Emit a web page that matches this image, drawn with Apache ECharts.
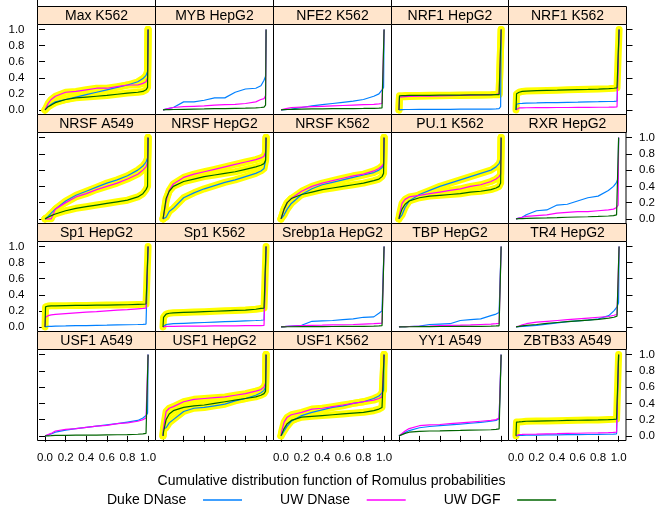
<!DOCTYPE html>
<html>
<head>
<meta charset="utf-8">
<script src="https://cdn.jsdelivr.net/npm/echarts@6/dist/echarts.min.js"></script>
<style>
html,body{margin:0;padding:0;background:#fff;}
#main{width:658px;height:508px;}
</style>
</head>
<body>
<div id="main"></div>
<script>
// ---------------- DATA ----------------
const panelTitles = ["Max K562","MYB HepG2","NFE2 K562","NRF1 HepG2","NRF1 K562",
  "NRSF A549","NRSF HepG2","NRSF K562","PU.1 K562","RXR HepG2",
  "Sp1 HepG2","Sp1 K562","Srebp1a HepG2","TBP HepG2","TR4 HepG2",
  "USF1 A549","USF1 HepG2","USF1 K562","YY1 A549","ZBTB33 A549"];
const seriesNames = ["Duke DNase","UW DNase","UW DGF"];
const xGrid = [0,0.005,0.03,0.06,0.1,0.2,0.3,0.4,0.5,0.6,0.7,0.8,0.9,0.95,0.98,0.995,1.0];
const xTickValues = [0,0.2,0.4,0.6,0.8,1.0];
const yTickValues = [0,0.2,0.4,0.6,0.8,1.0];

const dukeDNase = [
 [0,0.005,0.04,0.07,0.10,0.13,0.16,0.19,0.22,0.25,0.28,0.31,0.35,0.39,0.43,0.48,1],
 [0,0.005,0.01,0.02,0.03,0.10,0.10,0.12,0.15,0.15,0.22,0.26,0.27,0.30,0.37,0.42,1],
 [0,0.001,0.004,0.007,0.01,0.03,0.05,0.065,0.08,0.095,0.11,0.13,0.17,0.20,0.25,0.28,1],
 [0,0.003,0.004,0.005,0.005,0.006,0.007,0.008,0.008,0.009,0.01,0.01,0.011,0.012,0.015,0.04,1],
 [0,0.07,0.08,0.082,0.085,0.087,0.09,0.092,0.095,0.097,0.1,0.102,0.105,0.107,0.11,0.12,1],
 [0,0.005,0.03,0.07,0.12,0.22,0.29,0.34,0.39,0.44,0.48,0.53,0.60,0.65,0.70,0.75,1],
 [0,0.005,0.02,0.09,0.13,0.26,0.32,0.37,0.41,0.45,0.48,0.52,0.56,0.59,0.62,0.72,1],
 [0,0.005,0.05,0.12,0.19,0.30,0.37,0.42,0.45,0.48,0.51,0.54,0.57,0.60,0.63,0.66,1],
 [0,0.005,0.05,0.14,0.22,0.30,0.35,0.40,0.44,0.48,0.52,0.56,0.60,0.64,0.68,0.73,1],
 [0,0.002,0.01,0.02,0.05,0.10,0.11,0.17,0.18,0.22,0.26,0.28,0.35,0.40,0.45,0.50,1],
 [0,0.005,0.006,0.008,0.01,0.012,0.015,0.017,0.02,0.022,0.025,0.027,0.03,0.032,0.035,0.04,1],
 [0,0.02,0.03,0.035,0.04,0.045,0.05,0.055,0.06,0.065,0.07,0.075,0.08,0.083,0.086,0.09,1],
 [0,0.001,0.003,0.006,0.01,0.02,0.07,0.075,0.08,0.09,0.10,0.12,0.125,0.17,0.20,0.21,1],
 [0,0.001,0.002,0.003,0.005,0.01,0.03,0.035,0.04,0.08,0.09,0.10,0.14,0.16,0.18,0.19,1],
 [0,0.001,0.003,0.006,0.01,0.02,0.035,0.05,0.065,0.075,0.085,0.10,0.14,0.20,0.25,0.30,1],
 [0,0.001,0.01,0.025,0.045,0.07,0.09,0.105,0.12,0.135,0.15,0.17,0.19,0.22,0.25,0.28,1],
 [0,0.09,0.10,0.16,0.20,0.30,0.34,0.35,0.37,0.39,0.43,0.46,0.50,0.53,0.56,0.60,1],
 [0,0.01,0.06,0.12,0.18,0.25,0.29,0.32,0.35,0.37,0.40,0.42,0.46,0.49,0.53,0.56,1],
 [0,0.002,0.02,0.04,0.065,0.10,0.115,0.125,0.135,0.145,0.155,0.165,0.18,0.19,0.21,0.23,1],
 [0,0.005,0.006,0.007,0.008,0.01,0.012,0.013,0.015,0.016,0.017,0.018,0.02,0.022,0.025,0.03,1]
];
const uwDNase = [
 [0,0.02,0.08,0.13,0.17,0.22,0.23,0.25,0.27,0.27,0.29,0.31,0.31,0.33,0.35,0.40,1],
 [0,0.003,0.01,0.02,0.03,0.04,0.045,0.05,0.06,0.065,0.07,0.08,0.10,0.13,0.14,0.18,1],
 [0,0.002,0.01,0.02,0.03,0.035,0.04,0.045,0.05,0.055,0.06,0.065,0.07,0.075,0.08,0.09,1],
 [0,0.16,0.163,0.165,0.167,0.17,0.172,0.175,0.178,0.18,0.183,0.186,0.19,0.195,0.2,0.21,1],
 [0,0.02,0.025,0.026,0.027,0.028,0.029,0.03,0.03,0.031,0.032,0.033,0.034,0.035,0.037,0.04,1],
 [0,0,0,0,0.12,0.2,0.27,0.31,0.36,0.40,0.44,0.49,0.55,0.60,0.64,0.70,1],
 [0,0.03,0.22,0.35,0.43,0.51,0.55,0.58,0.61,0.64,0.67,0.70,0.73,0.75,0.77,0.82,1],
 [0,0.02,0.12,0.20,0.25,0.34,0.40,0.44,0.47,0.50,0.53,0.55,0.59,0.62,0.65,0.68,1],
 [0,0.05,0.19,0.24,0.27,0.29,0.31,0.33,0.35,0.37,0.40,0.42,0.46,0.49,0.52,0.55,1],
 [0,0.002,0.01,0.02,0.03,0.04,0.05,0.07,0.08,0.09,0.09,0.10,0.11,0.12,0.14,0.17,1],
 [0,0.12,0.14,0.15,0.155,0.165,0.175,0.185,0.19,0.2,0.21,0.215,0.225,0.23,0.235,0.25,1],
 [0,0.005,0.006,0.007,0.008,0.009,0.01,0.011,0.012,0.013,0.014,0.015,0.016,0.017,0.018,0.02,1],
 [0,0.001,0.004,0.007,0.01,0.015,0.02,0.022,0.025,0.027,0.03,0.035,0.04,0.045,0.048,0.05,1],
 [0,0.001,0.002,0.003,0.005,0.008,0.01,0.015,0.02,0.022,0.025,0.03,0.035,0.04,0.045,0.05,1],
 [0,0.003,0.012,0.025,0.04,0.06,0.07,0.08,0.09,0.10,0.11,0.12,0.13,0.145,0.155,0.17,1],
 [0,0.002,0.015,0.03,0.06,0.08,0.09,0.105,0.12,0.13,0.15,0.16,0.18,0.20,0.22,0.24,1],
 [0,0.1,0.30,0.34,0.36,0.42,0.45,0.46,0.47,0.48,0.50,0.52,0.55,0.57,0.60,0.65,1],
 [0,0.05,0.17,0.23,0.26,0.29,0.33,0.34,0.36,0.38,0.40,0.42,0.44,0.46,0.48,0.50,1],
 [0,0.003,0.03,0.06,0.09,0.125,0.135,0.14,0.15,0.16,0.17,0.18,0.19,0.20,0.22,0.24,1],
 [0,0.015,0.017,0.018,0.02,0.022,0.025,0.027,0.03,0.032,0.035,0.037,0.04,0.043,0.046,0.05,1]
];
const uwDGF = [
 [0,0.01,0.04,0.06,0.09,0.13,0.15,0.16,0.17,0.18,0.195,0.21,0.22,0.23,0.25,0.28,1],
 [0,0.001,0.003,0.004,0.005,0.008,0.01,0.012,0.015,0.017,0.02,0.022,0.025,0.03,0.035,0.06,1],
 [0,0.001,0.003,0.005,0.007,0.01,0.012,0.013,0.015,0.016,0.017,0.018,0.02,0.022,0.025,0.03,1],
 [0,0.175,0.177,0.178,0.18,0.181,0.182,0.183,0.184,0.185,0.186,0.187,0.188,0.19,0.19,0.195,1],
 [0,0.2,0.22,0.23,0.235,0.24,0.243,0.246,0.25,0.253,0.256,0.26,0.265,0.27,0.275,0.29,1],
 [0,0.005,0.02,0.04,0.06,0.10,0.13,0.15,0.17,0.19,0.21,0.23,0.27,0.31,0.36,0.40,1],
 [0,0.04,0.25,0.34,0.40,0.46,0.49,0.52,0.54,0.56,0.58,0.61,0.64,0.66,0.68,0.72,1],
 [0,0.02,0.12,0.20,0.25,0.30,0.33,0.36,0.38,0.40,0.42,0.44,0.47,0.49,0.52,0.56,1],
 [0,0.03,0.12,0.18,0.22,0.26,0.28,0.29,0.30,0.31,0.33,0.34,0.36,0.38,0.40,0.44,1],
 [0,0.001,0.002,0.003,0.005,0.01,0.012,0.015,0.02,0.023,0.026,0.03,0.035,0.04,0.05,0.07,1],
 [0,0.25,0.26,0.262,0.263,0.265,0.267,0.268,0.27,0.272,0.274,0.276,0.28,0.282,0.285,0.29,1],
 [0,0.12,0.16,0.17,0.175,0.18,0.185,0.19,0.195,0.2,0.205,0.21,0.22,0.23,0.235,0.24,1],
 [0,0,0.001,0.002,0.002,0.003,0.004,0.004,0.005,0.006,0.007,0.008,0.01,0.012,0.015,0.03,1],
 [0,0,0.001,0.001,0.002,0.003,0.004,0.005,0.005,0.006,0.007,0.008,0.01,0.012,0.014,0.02,1],
 [0,0.002,0.006,0.012,0.02,0.03,0.045,0.055,0.065,0.075,0.085,0.095,0.11,0.12,0.135,0.15,1],
 [0,0,0.001,0.002,0.005,0.006,0.008,0.009,0.01,0.012,0.014,0.016,0.02,0.025,0.03,0.05,1],
 [0,0.05,0.20,0.27,0.31,0.35,0.37,0.38,0.40,0.42,0.44,0.46,0.48,0.50,0.52,0.55,1],
 [0,0.02,0.09,0.15,0.19,0.23,0.24,0.25,0.26,0.27,0.28,0.29,0.31,0.33,0.35,0.37,1],
 [0,0.002,0.015,0.03,0.045,0.055,0.06,0.062,0.065,0.067,0.07,0.072,0.075,0.08,0.085,0.09,1],
 [0,0.17,0.172,0.175,0.18,0.182,0.184,0.186,0.19,0.192,0.194,0.196,0.2,0.203,0.206,0.21,1]
];
// which curves are highlighted (Duke DNase, UW DNase, UW DGF)
const highlighted = [
 [1,1,1],[0,0,0],[0,0,0],[0,1,1],[0,0,1],
 [1,1,1],[1,1,1],[1,1,1],[1,1,1],[0,0,0],
 [0,0,1],[0,0,1],[0,0,0],[0,0,0],[0,0,0],
 [0,0,0],[1,1,1],[1,1,1],[0,0,0],[0,0,1]
];
const xAxisTitle = "Cumulative distribution function of Romulus probabilities";

// ---------------- LAYOUT / STYLE ----------------
const FONT = '"Liberation Sans", Arial, Helvetica, sans-serif';
const colors = ['#0080ff','#ff00ff','#006400'];
const colLefts = [37.5,155.5,273.5,391.5,508.5,626.5];
const rowTops = [6.5,114.5,223.5,331.5,440.5];
const STRIP = 18;
const XMIN = -0.073, XMAX = 1.072, YMIN = -0.057, YMAX = 1.063;
const fmt = v => Number(v).toFixed(1);

const grids = [], xAxes = [], yAxes = [], series = [], elements = [];
const groups = [dukeDNase, uwDNase, uwDGF];

panelTitles.forEach((title, i) => {
  const r = Math.floor(i / 5), c = i % 5;
  const left = colLefts[c], w = colLefts[c + 1] - left;
  const top = rowTops[r] + STRIP, h = rowTops[r + 1] - top;
  grids.push({left: left, top: top, width: w, height: h, show: true,
    borderColor: '#000', borderWidth: 1, backgroundColor: '#fff'});
  xAxes.push({gridIndex: i, type: 'value', min: XMIN, max: XMAX,
    axisLine: {show: false}, splitLine: {show: false},
    axisTick: {show: r === 3, length: 6, customValues: xTickValues, lineStyle: {color: '#000'}},
    axisLabel: {show: r === 3 && c % 2 === 0, customValues: xTickValues, margin: 11,
      formatter: fmt, fontSize: 11.5, color: '#000', fontFamily: FONT}});
  yAxes.push({gridIndex: i, type: 'value', position: 'left', min: YMIN, max: YMAX,
    axisLine: {show: false}, splitLine: {show: false},
    axisTick: {show: c === 0, length: 6, customValues: yTickValues, lineStyle: {color: '#000'}},
    axisLabel: {show: c === 0 && r % 2 === 0, customValues: yTickValues, margin: 13,
      formatter: fmt, fontSize: 11.5, color: '#000', fontFamily: FONT}});
  yAxes.push({gridIndex: i, type: 'value', position: 'right', min: YMIN, max: YMAX,
    axisLine: {show: false}, splitLine: {show: false},
    axisTick: {show: c === 4, length: 6, customValues: yTickValues, lineStyle: {color: '#000'}},
    axisLabel: {show: c === 4 && r % 2 === 1, customValues: yTickValues, margin: 13,
      formatter: fmt, fontSize: 11.5, color: '#000', fontFamily: FONT}});

  groups.forEach((g, k) => {
    const data = xGrid.map((x, j) => [x, g[i][j]]);
    if (highlighted[i][k]) {
      series.push({type: 'line', name: 'highlight', xAxisIndex: i, yAxisIndex: 2 * i,
        data: data, symbol: 'none', silent: true, z: 2, color: '#ffff00',
        lineStyle: {color: '#ffff00', width: 7, cap: 'round', join: 'round'}});
    }
  });
  groups.forEach((g, k) => {
    const data = xGrid.map((x, j) => [x, g[i][j]]);
    series.push({type: 'line', name: seriesNames[k], xAxisIndex: i, yAxisIndex: 2 * i,
      data: data, symbol: 'none', silent: true, z: 3, color: colors[k],
      lineStyle: {color: colors[k], width: 1.2}});
  });

  // strip
  elements.push({type: 'rect', shape: {x: left, y: rowTops[r], width: w, height: STRIP},
    style: {fill: '#ffe5cc', stroke: '#000', lineWidth: 1}, z: 10});
  elements.push({type: 'text', x: left + w / 2, y: rowTops[r] + STRIP / 2 + 0.5,
    style: {text: title, align: 'center', verticalAlign: 'middle', fontSize: 14,
      fontFamily: FONT, fill: '#000'}, z: 11});
});
for (let c = 0; c < 5; c++) {
  elements.push({type: 'line', shape: {x1: colLefts[c], y1: 0, x2: colLefts[c], y2: 6.5},
    style: {stroke: '#000', lineWidth: 1}, z: 10});
}
elements.push({type: 'text', x: 331.5, y: 481,
  style: {text: xAxisTitle, align: 'center', verticalAlign: 'middle', fontSize: 14,
    fontFamily: FONT, fill: '#000'}});

const chart = echarts.init(document.getElementById('main'), null, {renderer: 'canvas'});
chart.setOption({
  animation: false,
  backgroundColor: '#fff',
  grid: grids, xAxis: xAxes, yAxis: yAxes, series: series,
  legend: {data: seriesNames, left: 107, top: 493, padding: 0, align: 'right', orient: 'horizontal',
    icon: 'rect', itemWidth: 39, itemHeight: 1.5, itemGap: 38, selectedMode: false,
    formatter: n => n + '   ',
    textStyle: {fontSize: 14, color: '#000', fontFamily: FONT}},
  graphic: {elements: elements}
});
</script>
</body>
</html>
